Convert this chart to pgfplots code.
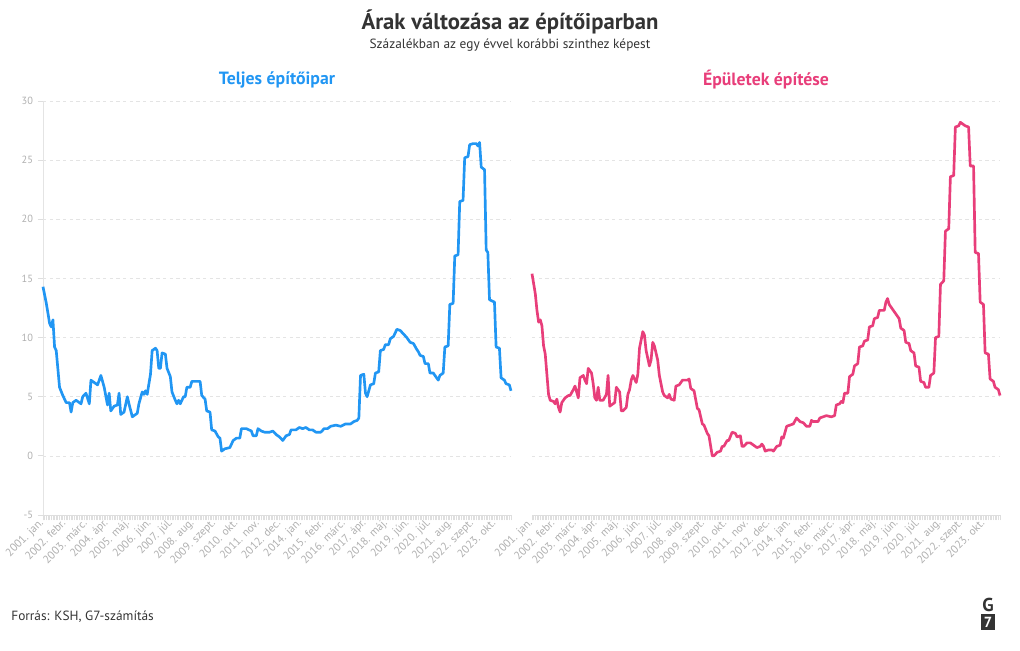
\documentclass[border=0pt]{standalone}
\usepackage{fontspec}
\setmainfont{PT Sans}
\usepackage{pgfplots}
\usepackage{pgfplotstable}
\pgfplotsset{compat=1.18}
\definecolor{cblue}{RGB}{33,150,243}
\definecolor{cpink}{RGB}{232,62,122}
\definecolor{tickgray}{RGB}{175,175,175}
\definecolor{gridgray}{RGB}{228,228,228}
\definecolor{bandgray}{RGB}{222,222,222}
\definecolor{txt}{RGB}{51,51,51}

\pgfplotstableread{
i v
0 14.3
2 12.9
4 11.2
5 10.9
6 11.5
7 9.2
8 8.9
10 5.8
12 5.1
14 4.5
16 4.5
17 3.7
18 4.5
20 4.7
22 4.5
23 4.4
24 5.0
26 5.3
28 4.4
29 6.4
31 6.2
33 6.0
35 6.8
37 5.8
39 4.3
40 5.3
41 3.8
43 4.2
45 4.3
46 5.3
47 3.5
49 3.7
51 5.0
52 4.4
54 3.3
57 3.6
58 4.4
60 5.4
61 5.2
62 5.5
63 5.2
65 6.9
66 8.9
68 9.1
69 8.9
70 7.4
71 7.4
72 8.7
74 8.6
75 7.4
77 6.7
78 5.4
80 4.7
81 4.4
82 4.7
83 4.4
85 5.0
86 5.0
87 5.8
89 5.8
90 6.3
95 6.3
96 5.1
98 4.8
99 3.8
101 3.7
102 2.2
104 2.1
106 1.6
107 1.5
108 0.4
110 0.6
113 0.7
115 1.3
117 1.5
119 1.5
120 2.3
123 2.3
126 2.1
127 1.7
129 1.7
130 2.3
132 2.1
134 2.0
137 2.0
139 2.1
141 1.8
143 1.6
145 1.3
147 1.7
149 1.8
150 2.2
153 2.2
155 2.4
157 2.3
159 2.4
161 2.2
163 2.2
165 2.0
168 2.0
170 2.3
172 2.3
174 2.5
177 2.6
180 2.5
183 2.7
186 2.7
188 2.9
190 3.0
191 3.2
192 6.8
194 6.9
195 5.3
196 5.0
198 6.0
200 6.1
201 7.0
203 7.1
204 8.9
206 9.0
207 9.4
209 9.4
210 9.9
212 10.1
214 10.7
216 10.6
218 10.3
220 10.0
222 9.6
224 9.5
226 9.0
227 8.8
228 8.5
230 8.4
231 7.8
233 7.8
234 7.0
236 7.0
238 6.6
239 6.4
240 6.8
242 7.0
243 9.2
245 9.3
246 12.8
248 12.9
249 16.9
251 17.0
252 21.5
254 21.6
255 25.2
257 25.3
258 26.3
260 26.4
262 26.4
263 26.2
264 26.5
265 24.4
267 24.2
268 17.4
269 17.2
270 13.2
273 13.0
274 9.2
276 9.1
277 6.6
279 6.4
280 6.1
282 6.0
283 5.5
}\teljes

\pgfplotstableread{
i v
0 15.4
2 13.7
3 12.3
4 11.3
5 11.5
6 11.0
7 9.3
8 8.6
10 5.2
11 4.7
13 4.6
14 4.4
15 4.8
16 4.1
17 3.7
18 4.5
20 4.9
22 5.1
23 5.1
25 5.6
26 5.9
28 4.9
29 6.6
31 6.8
32 6.4
33 6.1
34 7.4
36 7.0
37 6.1
38 4.9
39 4.7
40 5.8
41 4.7
43 4.7
45 5.2
46 6.8
47 4.2
49 4.4
50 4.5
51 5.8
53 5.4
54 3.8
55 3.8
57 4.1
58 5.2
59 5.6
60 6.4
61 6.8
63 6.2
64 6.9
65 9.1
67 10.5
68 10.2
69 8.9
71 7.6
72 8.1
73 9.6
74 9.3
76 8.1
77 6.8
79 5.4
80 5.1
82 4.9
83 5.2
84 4.8
86 4.7
87 5.9
89 6.0
91 6.4
94 6.4
95 6.5
96 5.7
98 5.5
100 4.0
101 3.9
103 2.7
104 2.6
106 1.9
107 1.7
109 0.0
110 0.0
112 0.3
114 0.4
115 0.8
116 0.8
118 1.3
119 1.3
121 2.0
123 1.9
124 1.6
126 1.7
127 0.8
128 0.8
130 1.1
132 1.1
134 0.9
136 0.7
138 0.8
139 1.0
140 0.8
141 0.4
143 0.5
145 0.5
146 0.4
148 0.8
150 0.9
151 1.6
152 1.5
154 2.5
156 2.6
158 2.7
160 3.2
162 2.9
164 2.8
166 2.5
168 2.5
169 3.0
170 2.9
173 2.9
174 3.2
176 3.3
178 3.4
181 3.3
183 3.4
184 4.3
186 4.4
187 4.6
188 4.5
189 5.3
191 5.3
192 6.7
194 6.9
195 7.6
197 7.8
198 9.2
200 9.3
201 9.7
203 9.8
204 10.9
206 11.0
207 11.6
209 11.7
210 12.3
213 12.3
214 13.0
215 13.3
216 12.8
218 12.4
220 12.0
222 11.6
223 10.8
225 10.6
226 9.6
228 9.5
229 8.9
231 8.7
232 7.6
234 7.5
235 6.3
237 6.2
238 5.8
240 5.8
241 6.8
243 7.0
244 10.0
246 10.1
247 14.5
249 14.8
250 19.0
252 19.2
253 23.6
255 23.7
256 27.8
258 27.9
259 28.2
260 28.1
262 27.9
264 27.8
265 24.5
267 24.5
268 17.2
270 17.1
271 13.0
273 12.8
274 8.7
276 8.6
277 6.5
279 6.3
280 5.8
282 5.6
283 5.1
}\epuletek

\pgfplotsset{
  panel/.style={
    scale only axis,
    width=351pt, height=310.5pt,
    xmin=0, xmax=283,
    ymin=-5, ymax=30,
    ytick={-5,0,5,10,15,20,25,30},
    xtick={0,13,...,273},
    minor xtick={0,1,...,283},
    xticklabels={2001. jan.,2002. febr.,2003. márc.,2004. ápr.,2005. máj.,2006. jún.,2007. júl.,2008. aug.,2009. szept.,2010. okt.,2011. nov.,2012. dec.,2014. jan.,2015. febr.,2016. márc.,2017. ápr.,2018. máj.,2019. jún.,2020. júl.,2021. aug.,2022. szept.,2023. okt.},
    xticklabel style={rotate=45, anchor=east, font=\fontsize{8.4}{9}\selectfont, text=tickgray, inner sep=1pt},
    yticklabel style={font=\fontsize{7.8}{8}\selectfont, text=tickgray},
    axis x line*=bottom,
    axis y line*=left,
    axis line style={-, draw=gridgray},
    x axis line style={draw=bandgray},
    tick align=outside,
    major tick length=4pt,
    minor tick length=4pt,
    every tick/.style={draw=bandgray, line width=0.6pt},
    ymajorgrids,
    major grid style={draw=gridgray, dash pattern=on 2.5pt off 2.5pt, line width=0.5pt},
    clip=false,
  }
}

\begin{document}
\begin{tikzpicture}
\path[use as bounding box] (0,0) rectangle (765pt,487.5pt);

\node[font=\bfseries\fontsize{17}{19}\selectfont, text=txt] at (382.5pt,471pt) {Árak változása az építőiparban};
\node[font=\fontsize{10}{11}\selectfont, text=txt] at (382.5pt,453.75pt) {Százalékban az egy évvel korábbi szinthez képest};
\node[font=\bfseries\fontsize{13.3}{14}\selectfont, text=cblue] at (207.75pt,427.5pt) {Teljes építőipar};
\node[font=\bfseries\fontsize{13.3}{14}\selectfont, text=cpink] at (574.5pt,427.5pt) {Épületek építése};

\begin{axis}[panel, at={(32.25pt,101.25pt)}, anchor=south west,
  yticklabels={-5,0,5,10,15,20,25,30}]
\addplot[cblue, line width=2pt, line join=round] table[x=i, y=v] {\teljes};
\end{axis}

\begin{axis}[panel, at={(399pt,101.25pt)}, anchor=south west,
  yticklabels={}, y axis line style={draw=none}, ytick style={draw=none}]
\addplot[cpink, line width=2pt, line join=round] table[x=i, y=v] {\epuletek};
\end{axis}

\node[anchor=west, font=\fontsize{10}{11}\selectfont, text=txt] at (5pt,24.75pt) {Forrás: KSH, G7-számítás};
\node[font=\bfseries\fontsize{14}{14}\selectfont, text=txt, inner sep=0pt] at (741pt,34pt) {G};
\fill[txt] (735.75pt,15pt) rectangle (746.25pt,27pt);
\node[font=\bfseries\fontsize{11}{11}\selectfont, text=white, inner sep=0pt] at (741pt,21pt) {7};
\end{tikzpicture}
\end{document}
